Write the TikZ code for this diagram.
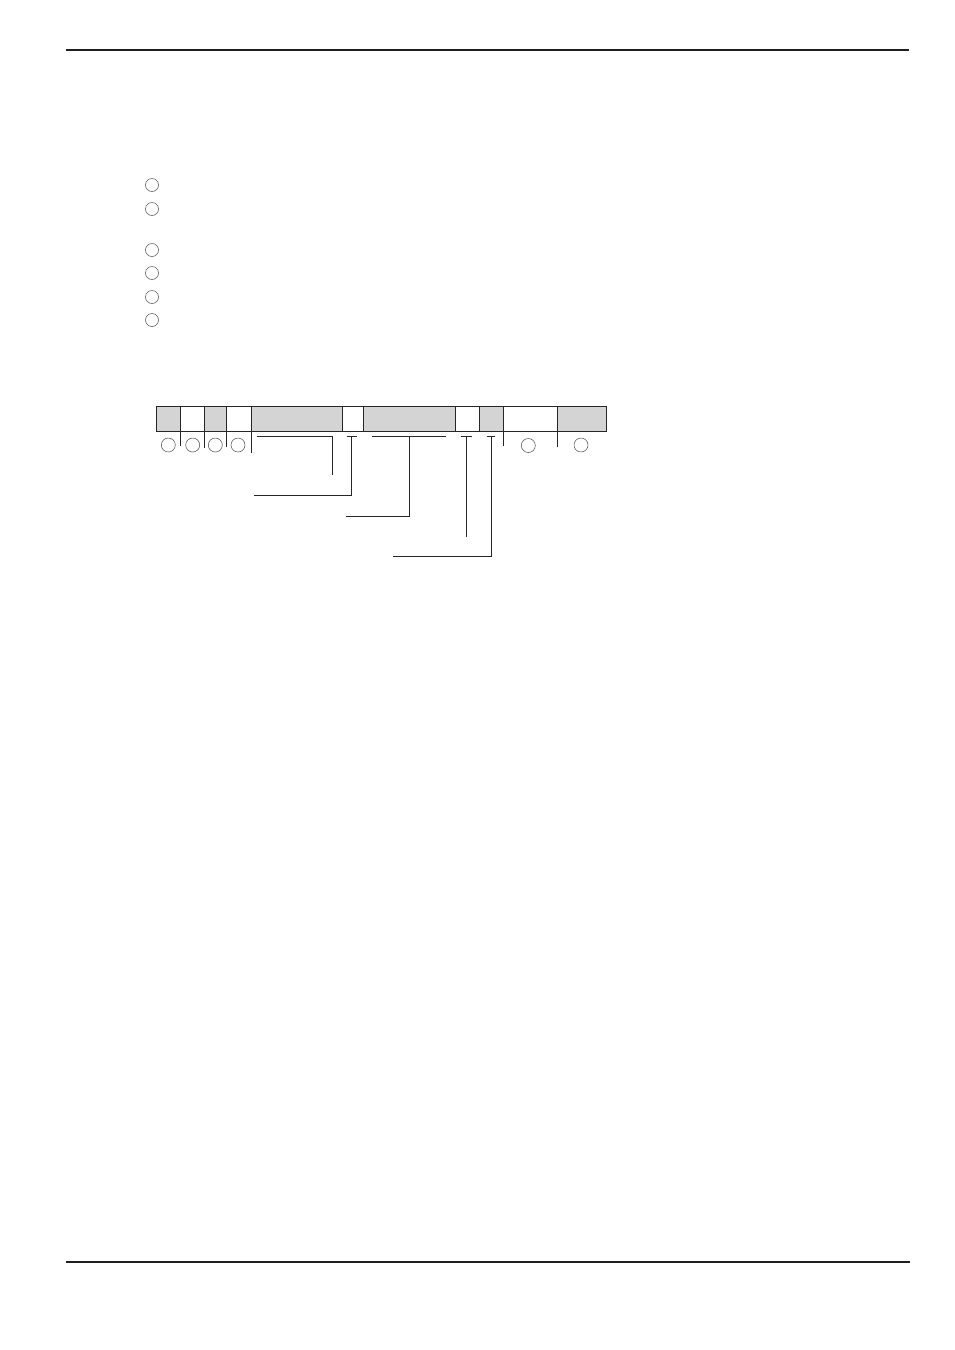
\documentclass[tikz,border=0pt]{standalone}
\begin{document}
\begin{tikzpicture}[x=1pt,y=-1pt,
  cellg/.style={draw=black!85,line width=0.8pt,fill=black!17,rectangle,inner sep=0pt,minimum height=25.5pt,anchor=north west},
  cellw/.style={cellg,fill=white},
  ring/.style={draw=black!70,line width=0.5pt,circle,inner sep=0pt,minimum size=13pt},
  lead/.style={draw=black!85,line width=0.9pt},
  rule/.style={draw=black!88,line width=2pt}]
\useasboundingbox (0,0) rectangle (954,1350);
% header / footer rules
\coordinate (hl) at (66,50); \coordinate (hr) at (909,50);
\coordinate (fl) at (66,1262); \coordinate (fr) at (910,1262);
\draw[rule] (hl) -- (hr);
\draw[rule] (fl) -- (fr);
% list circles
\foreach \y [count=\i] in {185,209,250,273,297,320}
  \node[ring] (l\i) at (152,\y) {};
% bar cells
\node[cellg,minimum width=24pt] (c1) at (156,405.5) {};
\node[cellw,minimum width=24pt] (c2) at (180,405.5) {};
\node[cellg,minimum width=22pt] (c3) at (204,405.5) {};
\node[cellw,minimum width=24.5pt] (c4) at (226,405.5) {};
\node[cellg,minimum width=91pt] (c5) at (250.5,405.5) {};
\node[cellw,minimum width=21pt] (c6) at (341.5,405.5) {};
\node[cellg,minimum width=92pt] (c7) at (362.5,405.5) {};
\node[cellw,minimum width=24pt] (c8) at (454.5,405.5) {};
\node[cellg,minimum width=24pt] (c9) at (478.5,405.5) {};
\node[cellw,minimum width=54pt] (c10) at (502.5,405.5) {};
\node[cellg,minimum width=49pt] (c11) at (556.5,405.5) {};
% ticks below bar
\draw[lead] (c1.south east) -- ++(0,14);
\draw[lead] (c2.south east) -- ++(0,16);
\draw[lead] (c3.south east) -- ++(0,15);
\draw[lead] (c4.south east) -- ++(0,21);
\draw[lead] (c9.south east) -- ++(0,14);
\draw[lead] (c10.south east) -- ++(0,15);
% circles below bar
\node[ring,minimum size=14pt] (b1) at (168.3,445) {};
\node[ring,minimum size=14pt] (b2) at (192.7,445) {};
\node[ring,minimum size=14pt] (b3) at (215.3,445) {};
\node[ring,minimum size=14pt] (b4) at (238,445) {};
\node[ring,minimum size=14pt] (b5) at (528.3,445.5) {};
\node[ring,minimum size=14pt] (b6) at (581,445) {};
% leader lines
\coordinate (p1a) at (256.7,436); \coordinate (p1b) at (332.3,436); \coordinate (p1c) at (332.3,475.3);
\draw[lead] (p1a) -- (p1b) -- (p1c);
\coordinate (p2a) at (346.7,436); \coordinate (p2b) at (356.7,436);
\coordinate (p2c) at (351.3,436); \coordinate (p2d) at (351.3,495.7); \coordinate (p2e) at (254.3,495.7);
\draw[lead] (p2a) -- (p2b);
\draw[lead] (p2c) -- (p2d) -- (p2e);
\coordinate (p3a) at (371.7,436); \coordinate (p3b) at (446,436);
\coordinate (p3c) at (409.7,436); \coordinate (p3d) at (409.7,516); \coordinate (p3e) at (346,516);
\draw[lead] (p3a) -- (p3b);
\draw[lead] (p3c) -- (p3d) -- (p3e);
\coordinate (p4a) at (460.7,436); \coordinate (p4b) at (471.7,436);
\coordinate (p4c) at (466.3,436); \coordinate (p4d) at (466.3,536.7);
\draw[lead] (p4a) -- (p4b);
\draw[lead] (p4c) -- (p4d);
\coordinate (p5a) at (486.7,436); \coordinate (p5b) at (495,436);
\coordinate (p5c) at (491.3,436); \coordinate (p5d) at (491.3,556); \coordinate (p5e) at (392.7,556);
\draw[lead] (p5a) -- (p5b);
\draw[lead] (p5c) -- (p5d) -- (p5e);
\end{tikzpicture}
\end{document}
